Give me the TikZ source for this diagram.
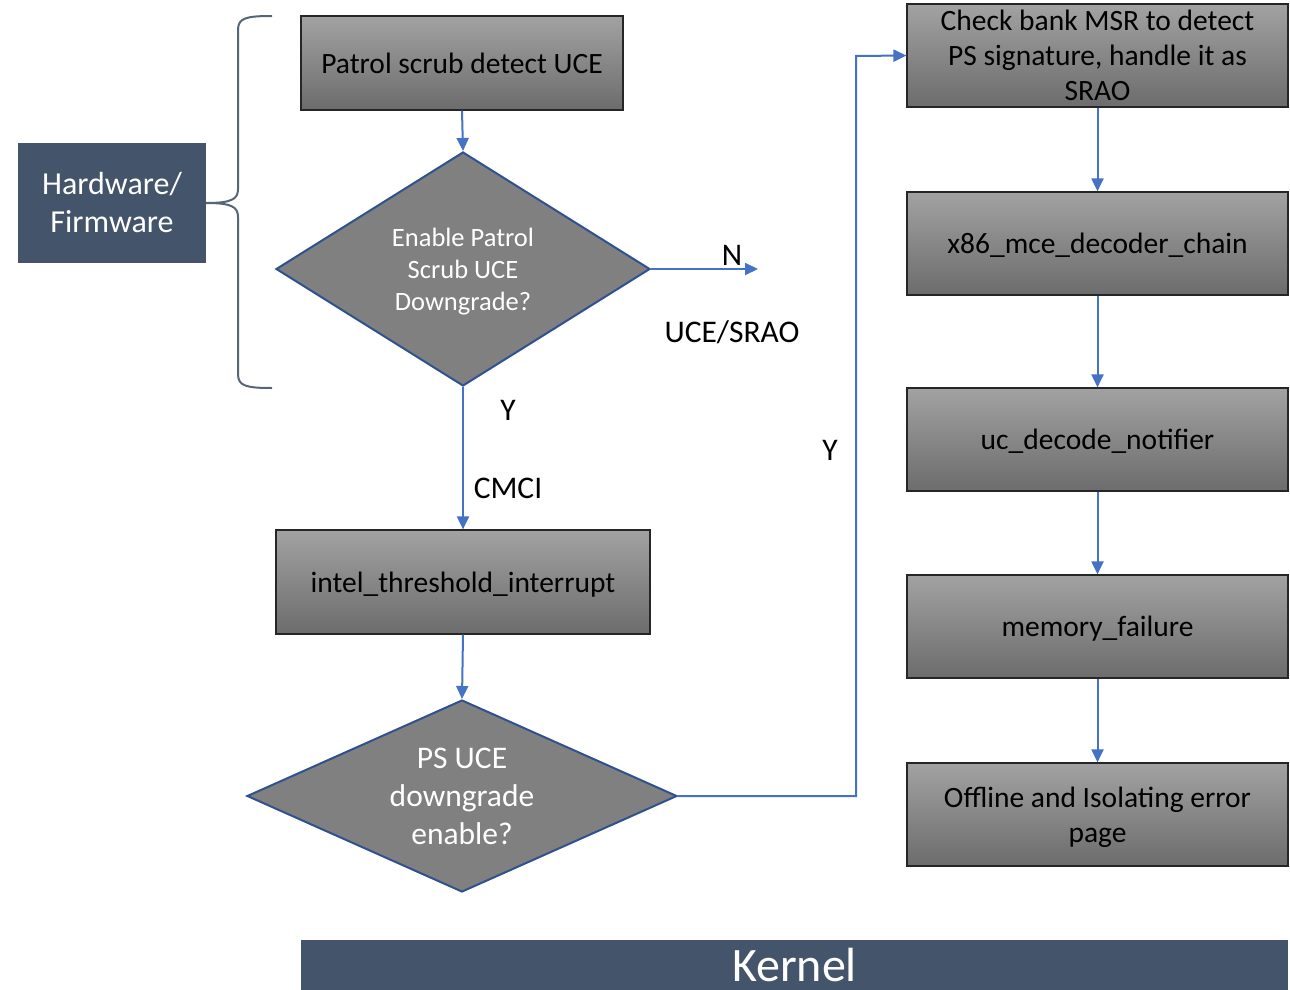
\documentclass[tikz,border=0pt]{standalone}
\usepackage{fontspec}
\setmainfont{Carlito}
\usetikzlibrary{shapes.geometric,arrows.meta}
\definecolor{slate}{RGB}{68,84,106}
\definecolor{flowblue}{RGB}{68,114,196}
\definecolor{edgeblue}{RGB}{47,82,143}
\definecolor{boxtop}{RGB}{162,162,162}
\definecolor{boxbot}{RGB}{108,108,108}
\definecolor{dgray}{RGB}{128,128,128}
\tikzset{
  procbox/.style={draw=black!85, line width=1.2pt, top color=boxtop, bottom color=boxbot,
    minimum width=381pt, minimum height=103pt, inner sep=0pt, align=center,
    text depth=0pt, font=\fontsize{29.5}{35}\selectfont},
  decision/.style={diamond, draw=edgeblue, line width=2pt, fill=dgray, inner sep=0pt},
  dtext/.style={text=white, align=center, inner sep=0pt, text depth=0pt},
  flow/.style={draw=flowblue, line width=2pt, -{Triangle[length=13pt,width=12pt]}},
  lbl/.style={font=\fontsize{31.5}{36}\selectfont, inner sep=0pt},
  tag/.style={fill=slate, text=white, align=center, inner sep=0pt}
}
\begin{document}
\begin{tikzpicture}[x=1pt,y=-1pt]
\useasboundingbox[fill=white] (0,0) rectangle (1290,990);

% left column
\node[procbox, minimum width=322pt, minimum height=94pt] (patrol) at (462,63) {Patrol scrub detect UCE};
\node[decision, minimum width=374pt, minimum height=234pt] (enable) at (463,269) {};
\node[dtext, font=\fontsize{26.5}{32}\selectfont] (enabletxt) at (enable.center) {Enable Patrol\\Scrub UCE\\Downgrade?};
\node[procbox, minimum width=374pt, minimum height=104pt] (intel) at (463,582) {intel\_threshold\_interrupt};
\node[decision, minimum width=430pt, minimum height=192pt] (psuce) at (462,796) {};
\node[dtext, font=\fontsize{31.5}{38}\selectfont] (psucetxt) at (psuce.center) {PS UCE\\downgrade\\enable?};

% right column
\node[procbox] (check) at (1097.5,55.5) {Check bank MSR to detect\\PS signature, handle it as\\SRAO};
\node[procbox] (decoder) at (1097.5,243.5) {x86\_mce\_decoder\_chain};
\node[procbox] (notifier) at (1097.5,439.5) {uc\_decode\_notifier};
\node[procbox] (memfail) at (1097.5,626.5) {memory\_failure};
\node[procbox] (offline) at (1097.5,814.5) {Offline and Isolating error\\page};

% layer tags
\node[tag, minimum width=188pt, minimum height=120pt, font=\fontsize{32}{38}\selectfont] (hw) at (112,203) {Hardware/\\Firmware};
\node[tag, minimum width=987pt, minimum height=50pt, font=\fontsize{48}{50}\selectfont] (kernel) at (794.5,965) {Kernel};

% brace grouping the hardware steps
\draw[slate!90!white, line width=2pt]
  (272,16) .. controls (246,16) and (238,18) .. (238,30) -- (238,189)
  .. controls (238,199) and (232,203) .. (hw.east)
  .. controls (232,203) and (238,207) .. (238,217) -- (238,374)
  .. controls (238,386) and (246,388) .. (272,388);

% connectors
\coordinate (nend) at (758,269);
\coordinate (bend1) at (856,796);
\coordinate (bend2) at (856,56);
\draw[flow] (patrol.south) -- (enable.north);
\draw[flow] (enable.east) -- (nend);
\draw[flow] (enable.south) -- (intel.north);
\draw[flow] (intel.south) -- (psuce.north);
\draw[flow] (psuce.east) -- (bend1) -- (bend2) -- (check.west);
\draw[flow] (check.south) -- (decoder.north);
\draw[flow] (decoder.south) -- (notifier.north);
\draw[flow] (notifier.south) -- (memfail.north);
\draw[flow] (memfail.south) -- (offline.north);

% labels
\node[lbl] (nlbl) at (732,255) {N};
\node[lbl] (srao) at (732,332) {UCE/SRAO};
\node[lbl] (ylbl1) at (508,410) {Y};
\node[lbl] (cmci) at (508,488) {CMCI};
\node[lbl] (ylbl2) at (830,450) {Y};
\end{tikzpicture}
\end{document}
